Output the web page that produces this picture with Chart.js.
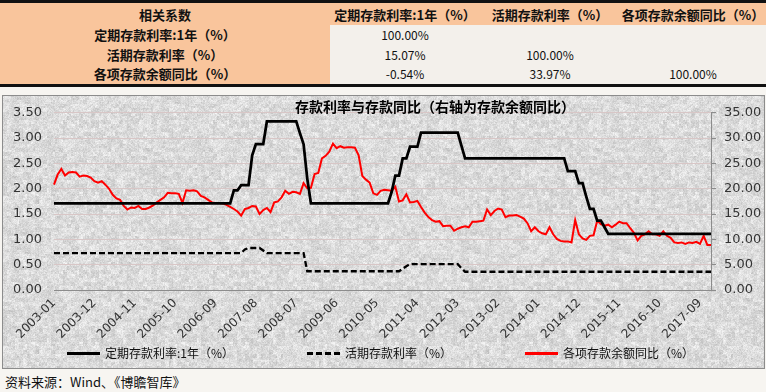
<!DOCTYPE html>
<html>
<head>
<meta charset="utf-8">
<script src="https://cdn.jsdelivr.net/npm/chart.js@4.4.0/dist/chart.umd.min.js"></script>
<style>
    html, body { margin: 0; padding: 0; }
    body {
        width: 766px; height: 392px; position: relative; overflow: hidden;
        background: #f7f5f1;
        font-family: "Noto Sans CJK SC", sans-serif;
        color: #111;
    }
    #tbl {
        position: absolute; left: 0; top: 0; width: 766px;
        border-collapse: collapse; table-layout: fixed;
        border-top: 3px solid #111; border-bottom: 3px solid #111;
        font-size: 12px;
    }
    #tbl td { padding: 0; text-align: center; background: #f3f0eb; white-space: nowrap; }
    #tbl tr.head td { background: #f9c59c; font-weight: bold; font-size: 13px; height: 22px; }
    #tbl td.lab { background: #f9c59c; font-weight: bold; font-size: 13px; }
    #box {
        position: absolute; left: 2px; top: 95px; width: 761px; height: 272px;
        border: 1px solid #8c8c8c; background-color: #dcdcdc;
    }
    #wrap { position: absolute; left: 0; top: 93px; width: 766px; height: 257px; }
    .leg { position: absolute; top: 345px; font-size: 12px; line-height: 16px; white-space: nowrap; }
    .leg i { display: inline-block; width: 33px; height: 0; vertical-align: middle; margin-right: 5px; margin-top: -2px; }
    #src { position: absolute; left: 5px; top: 372px; font-size: 13px; white-space: nowrap; }
</style>
</head>
<body>
<table id="tbl">
    <colgroup><col style="width:330px"><col style="width:150px"><col style="width:140px"><col style="width:146px"></colgroup>
    <tr class="head"><td>相关系数</td><td>定期存款利率:1年（%）</td><td>活期存款利率（%）</td><td>各项存款余额同比（%）</td></tr>
    <tr style="height:19px"><td class="lab">定期存款利率:1年（%）</td><td>100.00%</td><td></td><td></td></tr>
    <tr style="height:20px"><td class="lab">活期存款利率（%）</td><td>15.07%</td><td>100.00%</td><td></td></tr>
    <tr style="height:21px"><td class="lab">各项存款余额同比（%）</td><td>-0.54%</td><td>33.97%</td><td>100.00%</td></tr>
</table>

<div id="box"></div>
<div id="wrap"><canvas id="depositChart"></canvas></div>

<div class="leg" style="left:67px"><i style="border-top:3px solid #000"></i>定期存款利率:1年（%）</div>
<div class="leg" style="left:307px"><i style="border-top:3px dashed #000"></i>活期存款利率（%）</div>
<div class="leg" style="left:525px"><i style="border-top:3px solid #ff0000"></i>各项存款余额同比（%）</div>
<div id="src">资料来源：Wind、《博瞻智库》</div>

<script>
// 刻度标签（每11个月一个）
const tickLabels = ['2003-01', '2003-12', '2004-11', '2005-10', '2006-09', '2007-08', '2008-07', '2009-06',
    '2010-05', '2011-04', '2012-03', '2013-02', '2014-01', '2014-12', '2015-11', '2016-10', '2017-09'];

// 定期存款利率:1年（%），左轴
const fixedRate = [
    1.71, 1.71, 1.71, 1.71, 1.71, 1.71, 1.71, 1.71, 1.71, 1.71,
    1.71, 1.71, 1.71, 1.71, 1.71, 1.71, 1.71, 1.71, 1.71, 1.71,
    1.71, 1.71, 1.71, 1.71, 1.71, 1.71, 1.71, 1.71, 1.71, 1.71,
    1.71, 1.71, 1.71, 1.71, 1.71, 1.71, 1.71, 1.71, 1.71, 1.71,
    1.71, 1.71, 1.71, 1.71, 1.71, 1.71, 1.71, 1.71, 1.71, 1.97,
    1.97, 2.07, 2.07, 2.07, 2.66, 2.88, 2.88, 2.88, 3.33, 3.33,
    3.33, 3.33, 3.33, 3.33, 3.33, 3.33, 3.33, 3.10, 2.88, 2.20,
    1.71, 1.71, 1.71, 1.71, 1.71, 1.71, 1.71, 1.71, 1.71, 1.71,
    1.71, 1.71, 1.71, 1.71, 1.71, 1.71, 1.71, 1.71, 1.71, 1.71,
    1.71, 1.71, 1.94, 2.26, 2.26, 2.60, 2.60, 2.83, 2.83, 2.83,
    3.11, 3.11, 3.11, 3.11, 3.11, 3.11, 3.11, 3.11, 3.11, 3.11,
    3.11, 2.85, 2.60, 2.60, 2.60, 2.60, 2.60, 2.60, 2.60, 2.60,
    2.60, 2.60, 2.60, 2.60, 2.60, 2.60, 2.60, 2.60, 2.60, 2.60,
    2.60, 2.60, 2.60, 2.60, 2.60, 2.60, 2.60, 2.60, 2.60, 2.60,
    2.35, 2.35, 2.35, 2.11, 2.11, 1.85, 1.60, 1.60, 1.37, 1.37,
    1.24, 1.11, 1.11, 1.11, 1.11, 1.11, 1.11, 1.11, 1.11, 1.11,
    1.11, 1.11, 1.11, 1.11, 1.11, 1.11, 1.11, 1.11, 1.11, 1.11,
    1.11, 1.11, 1.11, 1.11, 1.11, 1.11, 1.11, 1.11, 1.11, 1.11
];

// 活期存款利率（%），左轴
const demandRate = [
    0.73, 0.73, 0.73, 0.73, 0.73, 0.73, 0.73, 0.73, 0.73, 0.73,
    0.73, 0.73, 0.73, 0.73, 0.73, 0.73, 0.73, 0.73, 0.73, 0.73,
    0.73, 0.73, 0.73, 0.73, 0.73, 0.73, 0.73, 0.73, 0.73, 0.73,
    0.73, 0.73, 0.73, 0.73, 0.73, 0.73, 0.73, 0.73, 0.73, 0.73,
    0.73, 0.73, 0.73, 0.73, 0.73, 0.73, 0.73, 0.73, 0.73, 0.73,
    0.73, 0.73, 0.80, 0.83, 0.83, 0.83, 0.83, 0.78, 0.73, 0.73,
    0.73, 0.73, 0.73, 0.73, 0.73, 0.73, 0.73, 0.73, 0.73, 0.37,
    0.37, 0.37, 0.37, 0.37, 0.37, 0.37, 0.37, 0.37, 0.37, 0.37,
    0.37, 0.37, 0.37, 0.37, 0.37, 0.37, 0.37, 0.37, 0.37, 0.37,
    0.37, 0.37, 0.37, 0.37, 0.37, 0.42, 0.47, 0.51, 0.51, 0.51,
    0.51, 0.51, 0.51, 0.51, 0.51, 0.51, 0.51, 0.51, 0.51, 0.51,
    0.51, 0.43, 0.36, 0.36, 0.36, 0.36, 0.36, 0.36, 0.36, 0.36,
    0.36, 0.36, 0.36, 0.36, 0.36, 0.36, 0.36, 0.36, 0.36, 0.36,
    0.36, 0.36, 0.36, 0.36, 0.36, 0.36, 0.36, 0.36, 0.36, 0.36,
    0.36, 0.36, 0.36, 0.36, 0.36, 0.36, 0.36, 0.36, 0.36, 0.36,
    0.36, 0.36, 0.36, 0.36, 0.36, 0.36, 0.36, 0.36, 0.36, 0.36,
    0.36, 0.36, 0.36, 0.36, 0.36, 0.36, 0.36, 0.36, 0.36, 0.36,
    0.36, 0.36, 0.36, 0.36, 0.36, 0.36, 0.36, 0.36, 0.36, 0.36
];

// 各项存款余额同比（%），右轴
const depositYoY = [
    20.8, 22.8, 23.9, 22.6, 23.2, 23.3, 23.2, 22.4, 22.6, 22.5,
    22.2, 21.5, 21.2, 21.5, 20.8, 20.0, 18.8, 18.1, 17.8, 16.6,
    15.9, 16.3, 16.2, 16.6, 16.0, 16.0, 16.3, 16.7, 17.3, 17.8,
    18.3, 19.2, 19.1, 19.1, 19.0, 17.2, 19.7, 19.6, 19.7, 19.5,
    18.6, 18.3, 17.8, 17.3, 17.2, 17.2, 17.1, 16.8, 16.4, 16.0,
    15.5, 14.7, 16.0, 16.2, 16.6, 16.5, 15.0, 15.8, 16.2, 15.4,
    17.3, 17.5, 18.3, 19.6, 19.0, 19.4, 19.3, 19.0, 21.1, 20.1,
    20.2, 22.9, 23.1, 26.0, 26.5, 27.3, 28.9, 28.0, 28.4, 28.1,
    28.2, 28.2, 28.1, 26.6, 22.5, 21.8, 21.2, 19.1, 18.8, 19.6,
    19.8, 19.7, 19.6, 20.4, 17.5, 17.7, 18.9, 17.3, 17.4, 17.6,
    16.4, 15.3, 14.4, 13.8, 13.5, 13.6, 12.6, 12.7, 12.7, 11.7,
    12.1, 12.4, 12.6, 12.4, 13.5, 13.5, 13.6, 13.7, 15.9, 14.8,
    15.6, 16.1, 15.9, 14.4, 14.7, 14.7, 14.8, 14.5, 14.1, 13.2,
    11.6, 12.4, 11.6, 11.2, 11.0, 12.4, 11.0, 10.1, 9.7, 9.6,
    9.6, 9.4, 13.8, 11.0, 10.2, 9.9, 10.7, 10.8, 13.7, 13.0,
    12.7, 12.9, 12.4, 12.9, 13.5, 13.2, 13.2, 12.2, 11.3, 9.8,
    10.7, 11.0, 11.6, 11.0, 11.0, 10.7, 11.6, 10.7, 10.3, 9.4,
    9.3, 9.4, 9.1, 9.4, 9.3, 9.5, 9.1, 10.7, 8.9, 8.9
];

// 月份类别 2003-01 ~ 2017-12
const months = [];
for (let y = 2003; y <= 2017; y++) {
    for (let m = 1; m <= 12; m++) {
        months.push(y + '-' + (m < 10 ? '0' + m : m));
    }
}

const chartTitle = '存款利率与存款同比（右轴为存款余额同比）';
const axisFont = { family: 'DejaVu Sans', size: 13 };

// 花岗岩纹理背景（确定性哈希，不用随机数）
function makeTexture() {
    const size = 150;
    const c = document.createElement('canvas');
    c.width = size; c.height = size;
    const g = c.getContext('2d');
    const img = g.createImageData(size, size);
    function hash(x, y) {
        const s = Math.sin(x * 127.1 + y * 311.7) * 43758.5453;
        return s - Math.floor(s);
    }
    for (let y = 0; y < size; y++) {
        for (let x = 0; x < size; x++) {
            const coarse = hash(Math.floor(x / 4) + 7, Math.floor(y / 4) + 13);
            const mid = hash(Math.floor(x / 2) + 31, Math.floor(y / 2) + 5);
            const fine = hash(x, y);
            let v = 219 + (coarse - 0.5) * 22 + (mid - 0.5) * 16 + (fine - 0.5) * 24;
            v = Math.max(180, Math.min(250, v));
            const k = (y * size + x) * 4;
            img.data[k] = v; img.data[k + 1] = v; img.data[k + 2] = v; img.data[k + 3] = 255;
        }
    }
    g.putImageData(img, 0, 0);
    return c.toDataURL();
}
document.getElementById('box').style.backgroundImage = 'url(' + makeTexture() + ')';

const titlePlugin = {
    id: 'overlayTitle',
    afterDatasetsDraw(chart) {
        const ctx = chart.ctx;
        ctx.save();
        ctx.font = 'bold 14px "Noto Sans CJK SC"';
        ctx.fillStyle = '#000';
        ctx.textAlign = 'center';
        ctx.textBaseline = 'middle';
        ctx.fillText(chartTitle, 435, 14);
        ctx.restore();
    }
};

const ctx = document.getElementById('depositChart').getContext('2d');
new Chart(ctx, {
    type: 'line',
    data: {
        labels: months,
        datasets: [{
            label: '定期存款利率:1年（%）',
            data: fixedRate,
            borderColor: '#000',
            borderWidth: 2.75,
            pointRadius: 0,
            yAxisID: 'y'
        }, {
            label: '活期存款利率（%）',
            data: demandRate,
            borderColor: '#000',
            borderWidth: 2.3,
            borderDash: [6, 3],
            pointRadius: 0,
            yAxisID: 'y'
        }, {
            label: '各项存款余额同比（%）',
            data: depositYoY,
            borderColor: '#ff0000',
            borderWidth: 2,
            pointRadius: 0,
            yAxisID: 'y1'
        }]
    },
    options: {
        responsive: true,
        maintainAspectRatio: false,
        animation: false,
        layout: { padding: { top: 11, left: 0, right: 0, bottom: 0 } },
        plugins: {
            legend: { display: false },
            tooltip: { enabled: false }
        },
        scales: {
            x: {
                offset: false,
                grid: { display: false, drawTicks: false },
                border: { display: false },
                ticks: {
                    autoSkip: false,
                    minRotation: 45,
                    maxRotation: 45,
                    padding: 6,
                    color: '#333',
                    font: { family: 'DejaVu Sans', size: 12 },
                    callback: function(value, index) {
                        const lab = months[index];
                        return tickLabels.includes(lab) ? lab : null;
                    }
                },
                afterFit: function(scale) { scale.height = 60; }
            },
            y: {
                position: 'left',
                min: 0,
                max: 3.5,
                border: { display: false },
                grid: {
                    drawTicks: false,
                    color: function(context) {
                        return context.tick.value === 0 ? '#8c8c8c' : '#d8c6c6';
                    }
                },
                ticks: {
                    stepSize: 0.5,
                    padding: 12,
                    color: '#333',
                    font: axisFont,
                    callback: function(value) { return value.toFixed(2); }
                },
                afterFit: function(scale) { scale.width = 54; }
            },
            y1: {
                position: 'right',
                min: 0,
                max: 35,
                border: { display: true, color: '#8c8c8c' },
                grid: {
                    drawOnChartArea: false,
                    drawTicks: true,
                    tickLength: 5,
                    tickColor: '#8c8c8c'
                },
                ticks: {
                    stepSize: 5,
                    padding: 8,
                    color: '#333',
                    font: axisFont,
                    callback: function(value) { return value.toFixed(2); }
                },
                afterFit: function(scale) { scale.width = 55; }
            }
        }
    },
    plugins: [titlePlugin]
});
</script>
</body>
</html>
